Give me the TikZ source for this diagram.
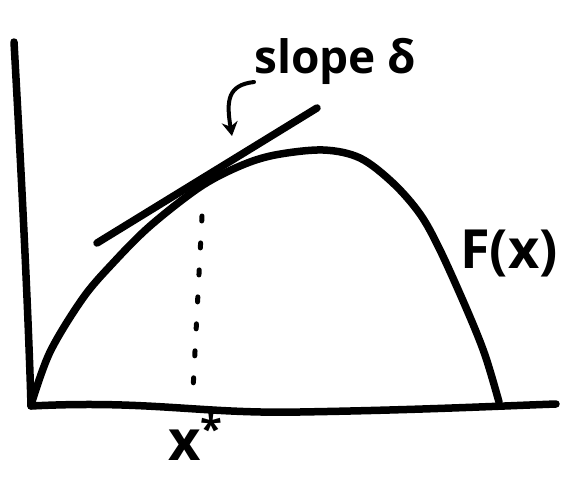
\documentclass[tikz,border=0pt]{standalone}
\usepackage{fontspec}
\setmainfont{Open Sans}
\usetikzlibrary{arrows.meta}
\begin{document}
\begin{tikzpicture}[x=1pt,y=-1pt,
  ink/.style={line width=7.5pt,line cap=round,line join=round},
  dots/.style={line width=5pt,line cap=round,dash pattern=on 5pt off 22pt},
  lbl/.style={inner sep=0pt,font=\bfseries}]
\useasboundingbox (0,0) rectangle (568,484);
% axes
\coordinate (ytop) at (14,42);
\coordinate (origin) at (31,406);
\coordinate (xend) at (556,404);
\draw[ink] (ytop) .. controls (20,150) and (28,300) .. (origin);
\draw[ink] (origin) .. controls (150,400) and (200,414) .. (300,412) .. controls (420,410) and (500,406) .. (xend);
% curve F(x)
\draw[ink] plot[smooth,tension=0.55] coordinates {(31,405) (50,352) (83,298) (113,263) (150,226) (200,187) (240,166) (275,155) (323,150) (360,158) (393,183) (420,214) (440,250) (467,310) (485,355) (499,402)};
% tangent line
\coordinate (tA) at (97,243);
\coordinate (tB) at (317,108);
\draw[ink] (tA) -- (tB);
% dotted vertical
\coordinate (dtop) at (202,216);
\coordinate (dbot) at (193,390);
\draw[dots] (dtop) -- (dbot);
% labels
\node[lbl,font=\fontsize{46}{50}\selectfont\bfseries,anchor=base west] (slope) at (254,74) {slope δ};
\coordinate (arrtip) at (232,136);
\draw[line width=4pt,line cap=round,-{Stealth[length=14pt,width=16pt]}] (254,82) .. controls (228,85) and (226,100) .. (arrtip);
\node[lbl,font=\fontsize{54}{60}\selectfont\bfseries,anchor=base west] (Fx) at (460,268) {F(x)};
\node[lbl,font=\fontsize{56}{60}\selectfont\bfseries,anchor=base west] (xstar) at (168,460) {x\raisebox{0.3em}{\fontsize{40}{40}\selectfont *}};
\end{tikzpicture}
\end{document}
